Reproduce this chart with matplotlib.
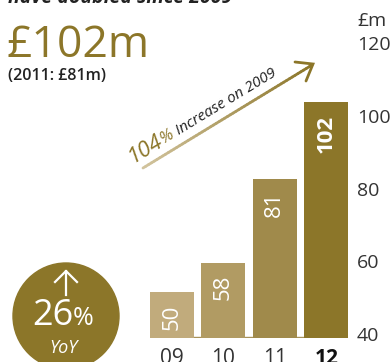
import numpy as np
import matplotlib
matplotlib.use("Agg")
import matplotlib.pyplot as plt
from matplotlib.patches import Circle
from matplotlib.collections import LineCollection
from matplotlib.colors import to_rgb
from matplotlib.transforms import ScaledTranslation

plt.rcParams['font.family'] = ['Open Sans', 'DejaVu Sans']

# revenue, £m
years = ['09', '10', '11', '12']
revenue = [50, 58, 81, 102]
bar_colors = ['#c1ab7c', '#b19b63', '#a08a4b', '#8c7629']
yticks = [40, 60, 80, 100, 120]

gold = '#8c7629'
dark = '#333333'

fig = plt.figure(figsize=(3.91, 3.62), dpi=100)
W, H = 391, 362

# overlay in pixel coordinates for the headline, badge and arrow
ov = fig.add_axes([0, 0, 1, 1])
ov.set_xlim(0, W)
ov.set_ylim(H, 0)
ov.axis('off')

# bar chart
ax = fig.add_axes([141 / W, (H - 338) / H, 209 / W, 318 / H])
ax.patch.set_visible(False)
x = np.arange(len(years))
bw = 0.855
ax.bar(x, revenue, width=bw, color=bar_colors, zorder=2)
ax.set_xlim(-0.6, 3.46)
ax.set_ylim(37.3, 124.5)
ax.hlines(37.45, x[0] - bw / 2, x[-1] - bw / 2, color='#a8925a', lw=1, zorder=1)
for s in ax.spines.values():
    s.set_visible(False)

down = ScaledTranslation(0, -9 / 72, fig.dpi_scale_trans)
for xi, v in zip(x, revenue):
    ax.text(xi, v, str(v), rotation=90, ha='center', va='top', color='white',
            fontsize=16, fontweight='bold' if v == revenue[-1] else 'normal',
            transform=ax.transData + down)

ax.yaxis.tick_right()
ax.set_yticks(yticks)
ax.set_yticklabels([str(t) for t in yticks], fontsize=14, color=dark)
ax.tick_params(axis='y', length=0, pad=5)
shift = ScaledTranslation(0, -4.5 / 72, fig.dpi_scale_trans)
for lab in ax.get_yticklabels():
    lab.set_transform(lab.get_transform() + shift)
ov.text(357, 26, '£m', ha='left', va='baseline', fontsize=14, color=dark)

ax.set_xticks(x)
ax.set_xticklabels(years, fontsize=15, color=dark)
ax.tick_params(axis='x', length=0, pad=7)
ax.get_xticklabels()[-1].set_fontweight('bold')
ax.get_xticklabels()[-1].set_color('#111111')

# headline
ov.text(8, 3, 'have doubled since 2009', fontsize=14, fontweight='bold', fontstyle='italic',
        color='#222222', ha='left', va='baseline')
ov.text(6, 57, '£102m', fontsize=32, color=gold, ha='left', va='baseline')
ov.text(8, 80, '(2011: £81m)', fontsize=11.5, fontweight='semibold', color='#222222',
        ha='left', va='baseline')

# growth arrow with a colour ramp
p0 = np.array([143.0, 168.0])
p1 = np.array([312.0, 65.0])
n = 60
pts = np.linspace(p0, p1, n + 1)
segs = np.stack([pts[:-1], pts[1:]], axis=1)
c0 = np.array(to_rgb('#d2c49e'))
c1 = np.array(to_rgb(gold))
cols = [c0 + (c1 - c0) * t for t in np.linspace(0, 1, n)]
ov.add_collection(LineCollection(segs, colors=cols, linewidths=2, capstyle='round'))
ov.plot([295, 313, 306], [62, 64, 81], color=gold, lw=2, solid_capstyle='round',
        solid_joinstyle='miter')

ang = np.degrees(np.arctan2(p0[1] - p1[1], p1[0] - p0[0]))


def run_text(x0, y0, parts, angle):
    r = fig.canvas.get_renderer()
    ca, sa = np.cos(np.radians(angle)), np.sin(np.radians(angle))
    for s, kw in parts:
        ov.text(x0, y0, s, rotation=angle, rotation_mode='anchor', ha='left',
                va='baseline', **kw)
        tmp = ov.text(0, 0, s, **kw)
        w = tmp.get_window_extent(r).width
        tmp.remove()
        x0 += w * ca
        y0 -= w * sa


run_text(133, 163, [('104', dict(fontsize=16, fontstyle='italic', color=gold)),
                    ('% ', dict(fontsize=12, fontstyle='italic', color=gold)),
                    ('Increase on 2009', dict(fontsize=11, fontstyle='italic', color='#222222'))],
         ang)

# year-on-year badge
ov.add_patch(Circle((66, 316), 53, color=gold, zorder=1))
ov.plot([66, 66], [295, 271], color='white', lw=1.6, zorder=2)
ov.plot([55, 66, 77], [282, 271, 282], color='white', lw=1.6, zorder=2)
ov.text(73, 325, '26', fontsize=26, color='white', ha='right', va='baseline', zorder=3)
ov.text(73, 325, '%', fontsize=18, color='white', ha='left', va='baseline', zorder=3)
ov.text(64, 353, 'YoY', fontsize=13, fontstyle='italic', color='white', ha='center',
        va='baseline', zorder=3)

fig.savefig('out.png', dpi=100)
